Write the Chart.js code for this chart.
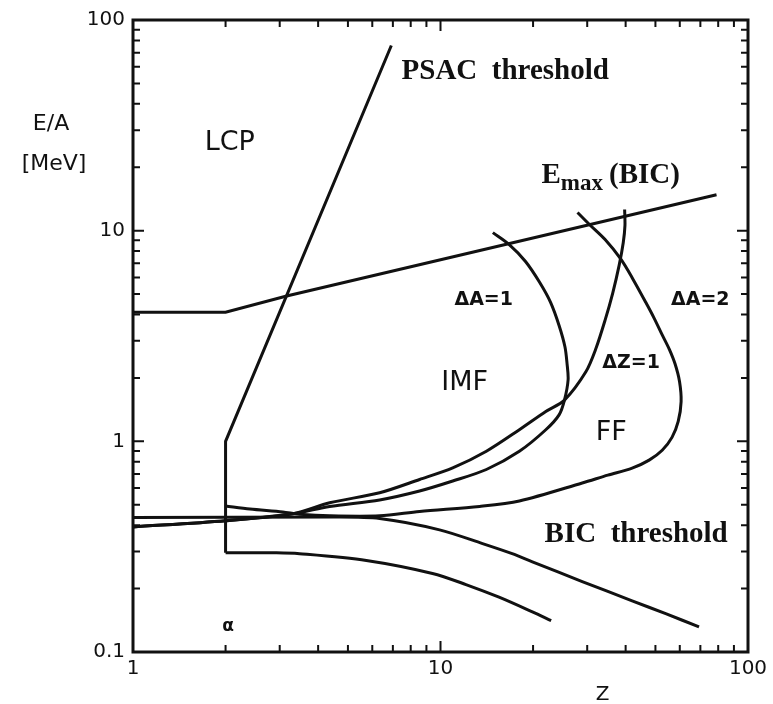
<!DOCTYPE html>
<html>
<head>
<meta charset="utf-8">
<script src="https://cdn.jsdelivr.net/npm/chart.js@4.4.1/dist/chart.umd.min.js"></script>
<style>
  html, body { margin: 0; padding: 0; background: #fff; }
</style>
</head>
<body>
<canvas id="graphique" width="773" height="704"></canvas>
<script>
// Axes (log-log)
const xTickValues = [1, 2, 3, 4, 5, 6, 7, 8, 9, 10, 20, 30, 40, 50, 60, 70, 80, 90, 100];
const yTickValues = [0.1, 0.2, 0.3, 0.4, 0.5, 0.6, 0.7, 0.8, 0.9, 1, 2, 3, 4, 5, 6, 7, 8, 9,
                     10, 20, 30, 40, 50, 60, 70, 80, 90, 100];
const xTickLabels = ["1", "10", "100"];
const yTickLabels = ["0.1", "1", "10", "100"];

// Courbes (Z, E/A en MeV)
const emaxZ = [1, 2, 3.16, 79];
const emaxE = [4.1, 4.1, 4.9, 14.8];

const psacZ = [2, 2, 6.92];
const psacE = [0.296, 1.0, 75.7];

const alphaZ = [2, 2.93, 3.48, 5.74, 9.42, 12.1, 15.5, 19.9, 22.9];
const alphaE = [0.296, 0.296, 0.293, 0.272, 0.236, 0.209, 0.182, 0.155, 0.141];

const bicZ = [1, 4.5, 6.34, 9.93, 13.7, 17.1, 19.9, 28.9, 42, 54, 69.3];
const bicE = [0.435, 0.437, 0.43, 0.38, 0.327, 0.293, 0.268, 0.216, 0.175, 0.152, 0.1316];

const dA1Z = [1, 2, 3.31, 4.36, 6.34, 8.55, 10.96, 14.1, 18.05, 22.0, 24.3, 25.3, 26.0, 25.8, 25.4, 24.3, 22.8, 21.0, 18.9, 16.7, 14.8];
const dA1E = [0.392, 0.42, 0.453, 0.491, 0.527, 0.581, 0.648, 0.735, 0.897, 1.135, 1.336, 1.57, 1.96, 2.333, 2.805, 3.55, 4.57, 5.69, 7.14, 8.61, 9.79];

const dZ1Z = [1, 2, 3.31, 4.36, 6.34, 8.55, 10.96, 14.1, 18.05, 22.0, 25.3, 29.7, 32.0, 34.3, 36.3, 38.1, 39.3, 39.8, 39.7];
const dZ1E = [0.392, 0.42, 0.453, 0.511, 0.57, 0.659, 0.748, 0.897, 1.135, 1.385, 1.57, 2.14, 2.75, 3.76, 5.04, 6.84, 8.78, 10.6, 12.6];

const dA2Z = [2, 2.4, 3.07, 3.48, 4.36, 6.34, 8.55, 13.4, 18.05, 28.9, 35, 42, 47.7, 52.6, 56.6, 59.3, 60.6,
              59.9, 57.9, 55.4, 52.6, 49.5, 46.5, 42.3, 38.6, 34.3, 30.5, 27.9];
const dA2E = [0.493, 0.477, 0.462, 0.451, 0.443, 0.443, 0.465, 0.491, 0.521, 0.634, 0.691, 0.746, 0.814, 0.907, 1.044, 1.243, 1.544,
              1.919, 2.333, 2.746, 3.2, 3.845, 4.57, 5.87, 7.32, 9.07, 10.7, 12.2];

// Étiquettes dans le graphique
const labelTexts = ["LCP", "IMF", "FF", "\u0394A=1", "\u0394A=2", "\u0394Z=1", "\u03b1"];
const labelZ = [1.71, 10.05, 32.0, 11.1, 56.2, 33.6, 1.95];
const labelE = [24.2, 1.75, 1.02, 4.42, 4.44, 2.22, 0.126];

const courbes = [
    [emaxZ, emaxE, 0],
    [psacZ, psacE, 0],
    [alphaZ, alphaE, 0.3],
    [bicZ, bicE, 0.3],
    [dA1Z, dA1E, 0.3],
    [dZ1Z, dZ1E, 0.3],
    [dA2Z, dA2E, 0.3]
];

const datasets = courbes.map(([zs, es, tension]) => ({
    data: zs.map((z, i) => ({ x: z, y: es[i] })),
    showLine: true,
    borderColor: '#111',
    borderWidth: 3,
    pointRadius: 0,
    tension: tension,
    fill: false
}));

const estDecade = v => Math.abs(Math.log10(v) - Math.round(Math.log10(v))) < 1e-6;

const cadreEtTextes = {
    id: 'cadreEtTextes',
    afterDraw(chart) {
        const { ctx, chartArea: a, scales: { x, y } } = chart;
        ctx.save();
        ctx.strokeStyle = '#111';
        ctx.lineCap = 'butt';

        // graduations vers l'intérieur sur les quatre côtés
        ctx.lineWidth = 2;
        ctx.beginPath();
        xTickValues.forEach(v => {
            const px = x.getPixelForValue(v);
            const len = estDecade(v) ? 11 : 7;
            ctx.moveTo(px, a.bottom); ctx.lineTo(px, a.bottom - len);
            ctx.moveTo(px, a.top); ctx.lineTo(px, a.top + len);
        });
        yTickValues.forEach(v => {
            const py = y.getPixelForValue(v);
            const len = estDecade(v) ? 11 : 7;
            ctx.moveTo(a.left, py); ctx.lineTo(a.left + len, py);
            ctx.moveTo(a.right, py); ctx.lineTo(a.right - len, py);
        });
        ctx.stroke();

        ctx.lineWidth = 3;
        ctx.strokeRect(a.left, a.top, a.right - a.left, a.bottom - a.top);

        // étiquettes des régions
        ctx.fillStyle = '#111';
        ctx.textBaseline = 'alphabetic';
        ctx.textAlign = 'left';
        labelTexts.forEach((t, i) => {
            const px = x.getPixelForValue(labelZ[i]);
            const py = y.getPixelForValue(labelE[i]);
            if (t.startsWith('\u0394')) ctx.font = 'bold 19px "DejaVu Sans"';
            else if (t === '\u03b1') ctx.font = 'bold 17px "DejaVu Sans"';
            else ctx.font = '27px "DejaVu Sans"';
            ctx.fillText(t, px, py);
        });

        // titres en serif gras
        ctx.font = 'bold 29px "Liberation Serif"';
        ctx.fillText('PSAC  threshold', x.getPixelForValue(7.47), y.getPixelForValue(52.7));
        ctx.fillText('BIC  threshold', x.getPixelForValue(21.8), y.getPixelForValue(0.331));

        let ex = x.getPixelForValue(21.3);
        const ey = y.getPixelForValue(16.8);
        ctx.fillText('E', ex, ey);
        ex += ctx.measureText('E').width;
        ctx.font = 'bold 23px "Liberation Serif"';
        ctx.fillText('max', ex, ey + 7);
        ex += ctx.measureText('max').width + 6;
        ctx.font = 'bold 29px "Liberation Serif"';
        ctx.fillText('(BIC)', ex, ey);

        // titres des axes
        ctx.font = '22px "DejaVu Sans"';
        ctx.textAlign = 'center';
        ctx.fillText('E/A', a.left - 82, a.top + 110);
        ctx.fillText('[MeV]', a.left - 79, a.top + 150);
        ctx.font = '20px "DejaVu Sans"';
        ctx.fillText('Z', (a.left + a.right) / 2 + 162, a.bottom + 48);
        ctx.restore();
    }
};

new Chart(document.getElementById('graphique').getContext('2d'), {
    type: 'scatter',
    data: { datasets: datasets },
    options: {
        responsive: false,
        animation: false,
        layout: { padding: { top: 15, right: 25, left: 0, bottom: 0 } },
        plugins: { legend: { display: false }, tooltip: { enabled: false } },
        scales: {
            x: {
                type: 'logarithmic',
                min: 1,
                max: 100,
                grid: { display: false, drawTicks: false },
                border: { display: false },
                afterBuildTicks: s => { s.ticks = xTickValues.map(v => ({ value: v })); },
                afterFit: s => { s.height = 52; },
                ticks: {
                    autoSkip: false,
                    maxRotation: 0,
                    padding: 5,
                    color: '#111',
                    font: { family: 'DejaVu Sans', size: 20 },
                    callback: v => xTickLabels.includes(String(v)) ? String(v) : ''
                }
            },
            y: {
                type: 'logarithmic',
                min: 0.1,
                max: 100,
                grid: { display: false, drawTicks: false },
                border: { display: false },
                afterBuildTicks: s => { s.ticks = yTickValues.map(v => ({ value: v })); },
                afterFit: s => { s.width = 133; },
                ticks: {
                    autoSkip: false,
                    padding: 8,
                    color: '#111',
                    font: { family: 'DejaVu Sans', size: 20 },
                    callback: v => yTickLabels.includes(String(v)) ? String(v) : ''
                }
            }
        }
    },
    plugins: [cadreEtTextes]
});
</script>
</body>
</html>
